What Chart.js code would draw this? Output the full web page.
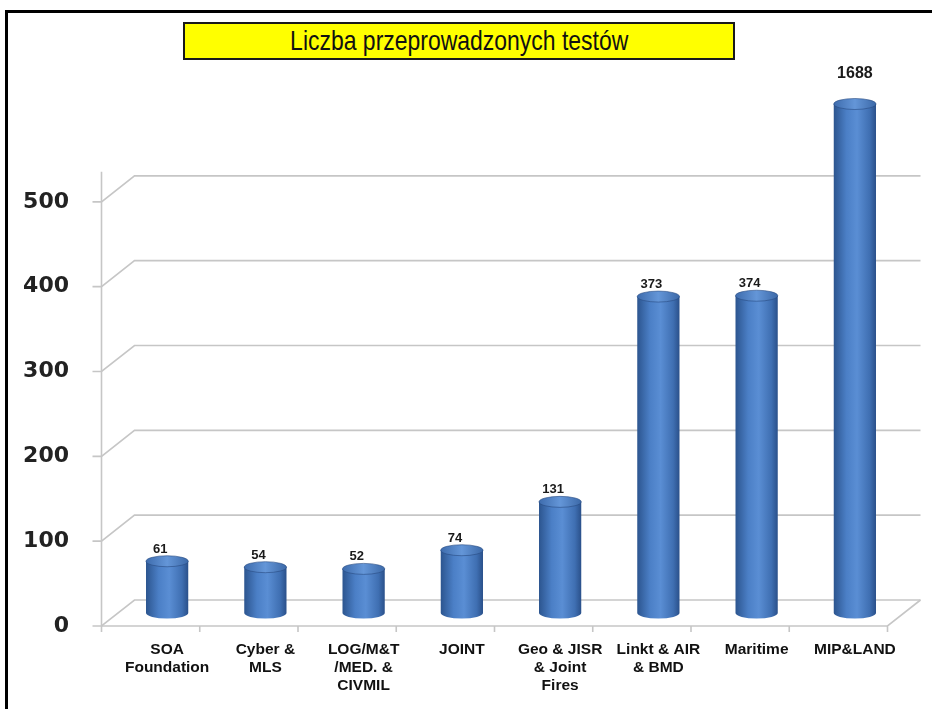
<!DOCTYPE html>
<html>
<head>
<meta charset="utf-8">
<script src="https://cdn.jsdelivr.net/npm/chart.js@4.4.1/dist/chart.umd.min.js"></script>
<style>
    html, body { margin: 0; padding: 0; background: #fff; }
    #wrap { position: relative; width: 932px; height: 709px; overflow: hidden; }
    #frame { position: absolute; left: 5px; top: 10px; width: 940px; height: 720px;
             border-left: 3px solid #000; border-top: 3px solid #000; box-sizing: border-box; }
    #title { position: absolute; left: 183px; top: 22px; width: 552px; height: 38px; box-sizing: border-box;
             background: #ffff00; border: 2px solid #1a1a1a; text-align: center; overflow: hidden; }
    #title span { display: inline-block; font-family: "Liberation Sans", Arial, sans-serif; font-size: 28px;
                  line-height: 33px; color: #111; transform: scaleX(0.82); transform-origin: center; white-space: nowrap; }
    #chart { position: absolute; left: 0; top: 0; }
</style>
</head>
<body>
<div id="wrap">
    <div id="frame"></div>
    <canvas id="chart" width="932" height="709"></canvas>
    <div id="title"><span>Liczba przeprowadzonych testów</span></div>
</div>
<script>
// Dane wykresu
const categories = [
    ['SOA', 'Foundation'],
    ['Cyber &', 'MLS'],
    ['LOG/M&T', '/MED. &', 'CIVMIL'],
    ['JOINT'],
    ['Geo & JISR', '& Joint', 'Fires'],
    ['Linkt & AIR', '& BMD'],
    ['Maritime'],
    ['MIP&LAND'],
];
const testCounts = [61, 54, 52, 74, 131, 373, 374, 1688];
const yTickValues = [0, 100, 200, 300, 400, 500];
const axisMax = 600;

// Perspektywa "3D"
const depthX = 33;
const depthY = 26;
const gridColor = '#c6c6c6';

const bodyGradient = (ctx, x, w) => {
    const g = ctx.createLinearGradient(x - w / 2, 0, x + w / 2, 0);
    g.addColorStop(0, '#2c558f');
    g.addColorStop(0.3, '#4b7fc6');
    g.addColorStop(0.55, '#5a8ed4');
    g.addColorStop(0.85, '#3f6fb2');
    g.addColorStop(1, '#2a508a');
    return g;
};

// Ściany i linie siatki
const wallPlugin = {
    id: 'wall',
    beforeDatasetsDraw(chart) {
        const { ctx, chartArea: area, scales: { x: sx, y: sy } } = chart;
        const frontLeft = area.left - depthX / 2;
        const backLeft = frontLeft + depthX;
        const frontRight = area.right - depthX / 2;
        const backRight = frontRight + depthX;
        ctx.save();
        ctx.strokeStyle = gridColor;
        ctx.lineWidth = 1.6;
        yTickValues.forEach((v) => {
            const mid = sy.getPixelForValue(v);
            ctx.beginPath();
            ctx.moveTo(frontLeft - 9, mid + depthY / 2);
            ctx.lineTo(frontLeft, mid + depthY / 2);
            ctx.lineTo(backLeft, mid - depthY / 2);
            ctx.lineTo(backRight, mid - depthY / 2);
            ctx.stroke();
        });
        const y0 = sy.getPixelForValue(0);
        const yTop = sy.getPixelForValue(yTickValues[yTickValues.length - 1]) - depthY / 2 - 4;
        ctx.beginPath();
        ctx.moveTo(frontLeft, y0 + depthY / 2);
        ctx.lineTo(frontRight, y0 + depthY / 2);
        ctx.lineTo(backRight, y0 - depthY / 2);
        ctx.moveTo(frontLeft, yTop);
        ctx.lineTo(frontLeft, y0 + depthY / 2 + 6);
        const step = sx.width / categories.length;
        for (let i = 1; i <= categories.length; i++) {
            const px = frontLeft + i * step;
            ctx.moveTo(px, y0 + depthY / 2);
            ctx.lineTo(px, y0 + depthY / 2 + 6);
        }
        ctx.stroke();
        ctx.restore();
    },
};

// Walce i etykiety wartości
const cylinderPlugin = {
    id: 'cylinders',
    afterDatasetsDraw(chart) {
        const { ctx, chartArea: area } = chart;
        const meta = chart.getDatasetMeta(0);
        const ry = 5.5;
        ctx.save();
        meta.data.forEach((bar, i) => {
            const w = bar.width;
            const top = Math.max(bar.y, area.top);
            const base = bar.base;
            // dolna krawędź
            ctx.beginPath();
            ctx.ellipse(bar.x, base, w / 2, ry, 0, 0, Math.PI);
            ctx.fillStyle = bodyGradient(ctx, bar.x, w);
            ctx.fill();
            // górna pokrywa
            const g = ctx.createLinearGradient(bar.x - w / 2, 0, bar.x + w / 2, 0);
            g.addColorStop(0, '#3e6cad');
            g.addColorStop(0.5, '#6496d8');
            g.addColorStop(1, '#3c69a8');
            ctx.beginPath();
            ctx.ellipse(bar.x, top, w / 2, ry, 0, 0, Math.PI * 2);
            ctx.fillStyle = g;
            ctx.fill();
            ctx.strokeStyle = 'rgba(40,75,130,0.6)';
            ctx.lineWidth = 1;
            ctx.stroke();
            // etykieta
            const clipped = testCounts[i] > axisMax;
            ctx.fillStyle = '#1a1a1a';
            ctx.textAlign = 'center';
            ctx.textBaseline = 'middle';
            ctx.font = clipped ? 'bold 16px "Liberation Sans", Arial' : 'bold 13px "Liberation Sans", Arial';
            if (clipped) {
                ctx.fillText(String(testCounts[i]), bar.x, area.top - 30);
            } else {
                ctx.fillText(String(testCounts[i]), bar.x - 7, bar.y - 12);
            }
        });
        ctx.restore();
    },
};

const canvas = document.getElementById('chart');
new Chart(canvas, {
    type: 'bar',
    data: {
        labels: categories,
        datasets: [
            {
                label: 'Liczba testów',
                data: testCounts,
                backgroundColor: (context) => {
                    const chart = context.chart;
                    if (!chart.chartArea) return '#4a7ec6';
                    const sx = chart.scales.x;
                    const x = sx.getPixelForValue(context.dataIndex);
                    const w = (sx.width / categories.length) * 0.43;
                    return bodyGradient(chart.ctx, x, w);
                },
                borderWidth: 0,
                barPercentage: 0.43,
                categoryPercentage: 1,
            },
        ],
    },
    options: {
        responsive: false,
        animation: false,
        layout: { padding: { left: 24, right: 28, top: 104, bottom: 0 } },
        scales: {
            x: {
                grid: { display: false },
                border: { display: false },
                ticks: {
                    autoSkip: false,
                    maxRotation: 0,
                    padding: 20,
                    color: '#111',
                    font: { family: '"Liberation Sans", Arial, sans-serif', size: 15.5, weight: 'bold', lineHeight: 1.16 },
                },
                afterFit: (s) => { s.height = 96; },
            },
            y: {
                min: 0,
                max: axisMax,
                grid: { display: false },
                border: { display: false },
                afterBuildTicks: (s) => { s.ticks = yTickValues.map((v) => ({ value: v })); },
                ticks: {
                    padding: 41,
                    labelOffset: depthY / 2,
                    color: '#222',
                    font: { family: '"DejaVu Sans", Verdana, sans-serif', size: 22, weight: 'bold' },
                },
                afterFit: (s) => { s.width = 94; },
            },
        },
        plugins: {
            legend: { display: false },
            tooltip: { enabled: false },
        },
    },
    plugins: [wallPlugin, cylinderPlugin],
});
</script>
</body>
</html>
